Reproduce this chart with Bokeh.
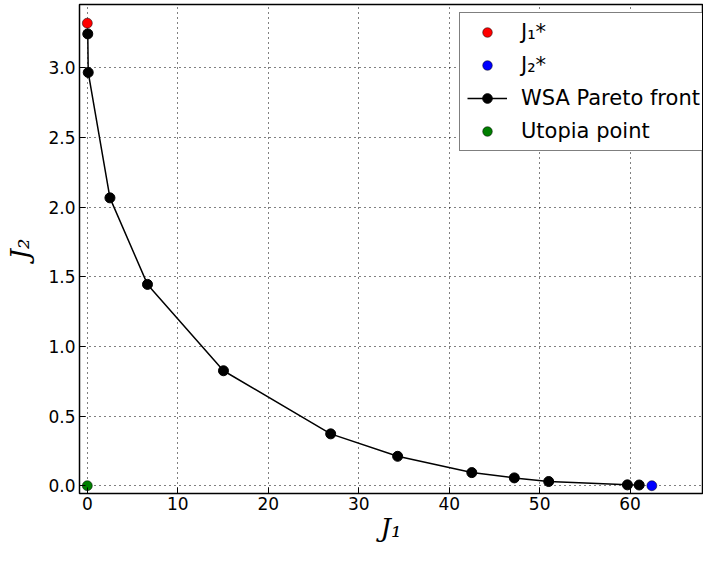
from bokeh.plotting import figure
from bokeh.models import Range1d, FixedTicker, NumeralTickFormatter, Legend, LegendItem
from bokeh.embed import file_html
from bokeh.resources import INLINE

# Data
pareto_j1 = [0.05, 0.1, 2.5, 6.65, 15.05, 26.9, 34.3, 42.5, 47.2, 51.0, 59.7, 61.0]
pareto_j2 = [3.243, 2.966, 2.066, 1.445, 0.825, 0.372, 0.211, 0.094, 0.056, 0.030, 0.006, 0.005]
j1_star = ([0.0], [3.32])
j2_star = ([62.4], [0.0])
utopia = ([0.0], [0.0])
x_ticks = [0, 10, 20, 30, 40, 50, 60]
y_ticks = [0.0, 0.5, 1.0, 1.5, 2.0, 2.5, 3.0]

p = figure(width=703, height=551, output_backend="svg", toolbar_location=None,
           x_range=Range1d(-0.865, 68.0), y_range=Range1d(-0.056, 3.454),
           min_border_left=79, min_border_right=1, min_border_top=4, min_border_bottom=58)

p.background_fill_color = "white"
p.border_fill_color = "white"
p.outline_line_color = "black"
p.outline_line_width = 1.5

TICK_FONT = "DejaVu Sans"
for ax in (p.xaxis[0], p.yaxis[0]):
    ax.major_tick_in = 6
    ax.major_tick_out = 0
    ax.minor_tick_line_color = None
    ax.axis_line_color = None
    ax.major_label_text_font = TICK_FONT
    ax.major_label_text_font_size = "17px"
    ax.major_label_text_color = "black"
    ax.axis_label_text_font = "DejaVu Serif"
    ax.axis_label_text_font_style = "italic"
    ax.axis_label_text_font_size = "26px"
    ax.axis_label_text_color = "black"

p.xaxis.ticker = FixedTicker(ticks=x_ticks)
p.yaxis.ticker = FixedTicker(ticks=y_ticks)
p.yaxis.formatter = NumeralTickFormatter(format="0.0")
p.xaxis.axis_label = "J\u2081"
p.yaxis.axis_label = "J\u2082"
p.xaxis.major_label_standoff = 3
p.yaxis.major_label_standoff = 4
p.xaxis.axis_label_standoff = 0
p.yaxis.axis_label_standoff = 10

p.grid.grid_line_color = "black"
p.grid.grid_line_dash = "1 4"
p.grid.grid_line_width = 1
p.xgrid.ticker = FixedTicker(ticks=x_ticks)
p.ygrid.ticker = FixedTicker(ticks=y_ticks)

r1 = p.scatter(j1_star[0], j1_star[1], size=10, color="#ff0000", line_color="black", line_width=0.5)
r2 = p.scatter(j2_star[0], j2_star[1], size=10, color="#0000ff", line_color="black", line_width=0.5)
rl = p.line(pareto_j1, pareto_j2, line_color="black", line_width=1.5)
rp = p.scatter(pareto_j1, pareto_j2, size=10, color="black")
r4 = p.scatter(utopia[0], utopia[1], size=10, color="#007f00", line_color="black", line_width=0.5)

legend = Legend(items=[
    LegendItem(label="J\u2081*", renderers=[r1]),
    LegendItem(label="J\u2082*", renderers=[r2]),
    LegendItem(label="WSA Pareto front", renderers=[rl, rp]),
    LegendItem(label="Utopia point", renderers=[r4]),
], location=(380, 342))
legend.label_text_font = TICK_FONT
legend.label_text_font_size = "21px"
legend.label_text_color = "black"
legend.border_line_color = "black"
legend.border_line_width = 1.5
legend.background_fill_alpha = 1
legend.glyph_width = 40
legend.glyph_height = 24
legend.label_height = 24
legend.spacing = 9
legend.padding = 7
legend.margin = 0
legend.label_standoff = 14
p.add_layout(legend)

open("out.html", "w").write(file_html(p, INLINE))
